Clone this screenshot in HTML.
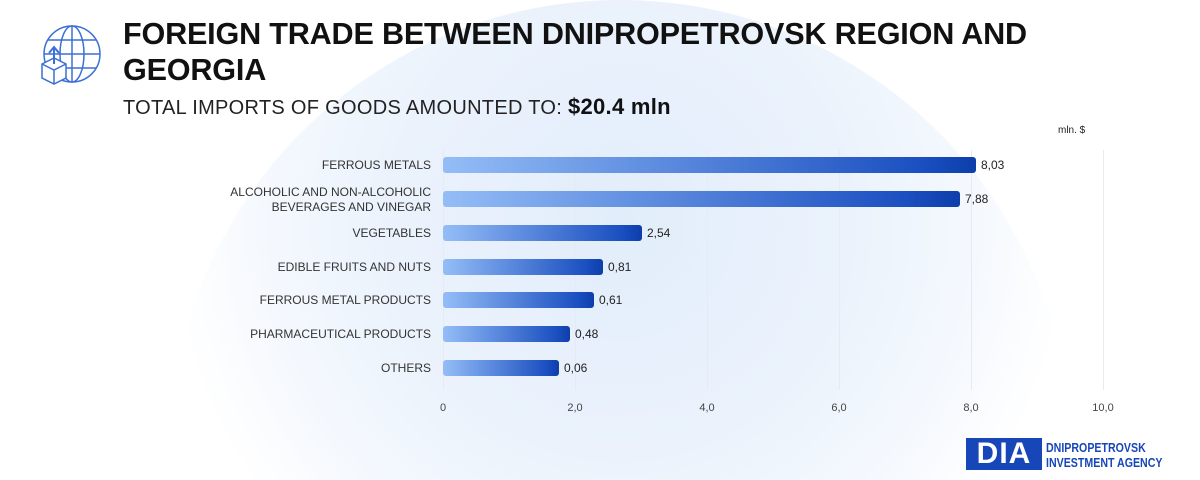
<!DOCTYPE html>
<html style="width:1200px;height:480px;overflow:hidden"><head><meta charset="utf-8"><style>
html,body{margin:0;width:1200px;height:480px;overflow:hidden}
body{background:#fff;font-family:"Liberation Sans",sans-serif;position:relative}
.t{position:absolute;left:123px;top:16px;font-size:30.6px;font-weight:bold;color:#111;line-height:36px;letter-spacing:-0.2px}
.s{position:absolute;left:123px;top:94px;font-size:20px;color:#222;letter-spacing:0.3px}
.s b{font-size:22px;color:#111}
.lbl{position:absolute;right:769px;font-size:12px;color:#333;text-align:right;line-height:15px}
.bar{position:absolute;left:443px;height:16px;border-radius:3px;background:linear-gradient(90deg,#94bdf7,#1a4fc0 90%,#0d3eaa)}
.v{position:absolute;font-size:12px;color:#222}
.g{position:absolute;top:150px;height:240px;width:1px;background:#e6ebf2}
.x{position:absolute;top:402px;font-size:11px;color:#444;transform:translateX(-50%)}
</style></head><body>
<svg style="position:absolute;left:0;top:0" width="1200" height="480">
<defs><radialGradient id="rg" cx="620" cy="225" r="450" gradientUnits="userSpaceOnUse"><stop offset="0" stop-color="#e2edfb"/><stop offset="0.5" stop-color="#ebf2fc"/><stop offset="0.8" stop-color="#f5f9fe"/><stop offset="1" stop-color="#fff"/></radialGradient></defs>
<path d="M171 480 A450 450 0 1 1 1069 480 Z" fill="url(#rg)"/></svg>
<svg style="position:absolute;left:38px;top:24px" width="64" height="64" viewBox="0 0 64 64" fill="none" stroke="#3d6fd6" stroke-width="1.5">
<circle cx="34" cy="30" r="28"/><ellipse cx="34" cy="30" rx="12" ry="28"/><line x1="34" y1="2" x2="34" y2="58"/><line x1="6" y1="30" x2="62" y2="30"/><path d="M10 16h48M10 44h48"/>
<path d="M4 40l12-6 12 6v14l-12 6-12-6z" fill="#fff"/><path d="M4 40l12 6 12-6M16 46v14"/><path d="M16 40V24M11 29l5-6 5 6" stroke-width="2"/></svg>
<div class="t">FOREIGN TRADE BETWEEN DNIPROPETROVSK REGION AND<br>GEORGIA</div>
<div class="s">TOTAL IMPORTS OF GOODS AMOUNTED TO: <b>$20.4 mln</b></div>
<div style="position:absolute;left:1058px;top:125px;font-size:10px;color:#222">mln. $</div>
<div class="g" style="left:443px"></div><div class="g" style="left:575px"></div><div class="g" style="left:707px"></div><div class="g" style="left:839px"></div><div class="g" style="left:971px"></div><div class="g" style="left:1103px"></div>
<div class="lbl" style="top:158px">FERROUS METALS</div>
<div class="lbl" style="top:185px">ALCOHOLIC AND NON-ALCOHOLIC<br>BEVERAGES AND VINEGAR</div>
<div class="lbl" style="top:226px">VEGETABLES</div>
<div class="lbl" style="top:260px">EDIBLE FRUITS AND NUTS</div>
<div class="lbl" style="top:293px">FERROUS METAL PRODUCTS</div>
<div class="lbl" style="top:327px">PHARMACEUTICAL PRODUCTS</div>
<div class="lbl" style="top:361px">OTHERS</div>
<div class="bar" style="top:157px;width:533px"></div><div class="v" style="left:981px;top:158px">8,03</div>
<div class="bar" style="top:191px;width:517px"></div><div class="v" style="left:965px;top:192px">7,88</div>
<div class="bar" style="top:225px;width:199px"></div><div class="v" style="left:647px;top:226px">2,54</div>
<div class="bar" style="top:259px;width:160px"></div><div class="v" style="left:608px;top:260px">0,81</div>
<div class="bar" style="top:292px;width:151px"></div><div class="v" style="left:599px;top:293px">0,61</div>
<div class="bar" style="top:326px;width:127px"></div><div class="v" style="left:575px;top:327px">0,48</div>
<div class="bar" style="top:360px;width:116px"></div><div class="v" style="left:564px;top:361px">0,06</div>
<div class="x" style="left:443px">0</div><div class="x" style="left:575px">2,0</div><div class="x" style="left:707px">4,0</div><div class="x" style="left:839px">6,0</div><div class="x" style="left:971px">8,0</div><div class="x" style="left:1103px">10,0</div>
<div style="position:absolute;left:966px;top:438px;width:76px;height:32px;background:#1746b8;color:#fff;font-weight:bold;font-size:30px;line-height:32px;text-align:center;letter-spacing:1px">DIA</div>
<div style="position:absolute;left:1046px;top:441px;font-size:12.5px;font-weight:bold;color:#1746b8;line-height:15px;transform:scaleX(0.85);transform-origin:left">DNIPROPETROVSK<br>INVESTMENT AGENCY</div>
</body></html>
